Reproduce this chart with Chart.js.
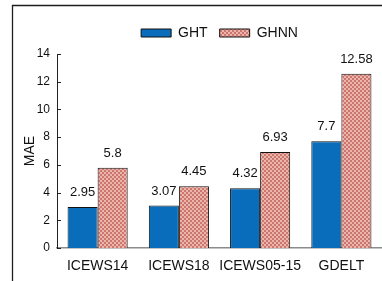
<!DOCTYPE html>
<html>
<head>
<meta charset="utf-8">
<script src="https://cdn.jsdelivr.net/npm/chart.js@4"></script>
<style>
  html, body { margin: 0; padding: 0; background: #fff; }
  #wrap { width: 382px; height: 281px; position: relative; }
</style>
</head>
<body>
<div id="wrap"><canvas id="maeChart" width="382" height="281"></canvas></div>
<script>
const categories = ["ICEWS14", "ICEWS18", "ICEWS05-15", "GDELT"];
const ghtValues = [2.95, 3.07, 4.32, 7.7];
const ghnnValues = [5.8, 4.45, 6.93, 12.58];
const yTicks = [0, 2, 4, 6, 8, 10, 12, 14];

const FONT = "'Liberation Sans', Arial, sans-serif";

// pink dotted fill like the original GHNN bars
function makePattern() {
    const c = document.createElement("canvas");
    c.width = 4;
    c.height = 4;
    const g = c.getContext("2d");
    g.fillStyle = "#cc776d";
    g.fillRect(0, 0, 4, 4);
    g.fillStyle = "#ebb5ad";
    g.fillRect(0, 0, 2, 2);
    g.fillRect(2, 2, 2, 2);
    return g.createPattern(c, "repeat");
}

const framePlugin = {
    id: "frame",
    beforeDraw(chart) {
        const ctx = chart.ctx;
        ctx.save();
        ctx.strokeStyle = "#1e1e1e";
        ctx.lineWidth = 1.3;
        ctx.beginPath();
        ctx.moveTo(12.5, 281);
        ctx.lineTo(12.5, 5.5);
        ctx.lineTo(382, 5.5);
        ctx.stroke();
        ctx.restore();
    }
};

// inward tick marks on the y axis + value labels over bars
const extrasPlugin = {
    id: "extras",
    afterDatasetsDraw(chart) {
        const ctx = chart.ctx;
        const y = chart.scales.y;
        ctx.save();
        ctx.strokeStyle = "#222";
        ctx.lineWidth = 1;
        yTicks.forEach(v => {
            const py = Math.round(y.getPixelForValue(v)) + 0.5;
            ctx.beginPath();
            ctx.moveTo(y.right, py);
            ctx.lineTo(y.right + 4, py);
            ctx.stroke();
        });

        ctx.fillStyle = "#111";
        ctx.font = "13px " + FONT;
        ctx.textAlign = "center";
        ctx.textBaseline = "bottom";
        chart.data.datasets.forEach((ds, i) => {
            const meta = chart.getDatasetMeta(i);
            meta.data.forEach((bar, j) => {
                ctx.fillText(String(ds.data[j]), bar.x, bar.y - 8);
            });
        });
        ctx.restore();
    }
};

function drawChart() {
    const ctx = document.getElementById("maeChart").getContext("2d");

    new Chart(ctx, {
        type: "bar",
        data: {
            labels: categories,
            datasets: [{
                label: "GHT",
                data: ghtValues,
                backgroundColor: "#0a6dbb",
                borderColor: "#111",
                borderWidth: 1
            }, {
                label: "GHNN",
                data: ghnnValues,
                backgroundColor: makePattern(),
                borderColor: "#111",
                borderWidth: 1
            }]
        },
        options: {
            responsive: false,
            animation: false,
            layout: { padding: { top: 14, right: 0, bottom: 0, left: 0 } },
            datasets: {
                bar: { categoryPercentage: 0.74, barPercentage: 1.0 }
            },
            plugins: {
                tooltip: { enabled: false },
                // empty title used only as a small spacer under the legend
                title: {
                    display: true,
                    text: " ",
                    weight: 500,
                    fullSize: false,
                    padding: 0,
                    font: { size: 4, lineHeight: 1 }
                },
                legend: {
                    position: "top",
                    fullSize: false,
                    labels: {
                        boxWidth: 30,
                        boxHeight: 8,
                        padding: 12,
                        color: "#111",
                        font: { family: FONT, size: 14 }
                    }
                }
            },
            scales: {
                x: {
                    grid: { display: false, drawTicks: false },
                    border: { display: true, color: "#8c8c8c", width: 1.5 },
                    ticks: {
                        padding: 10,
                        autoSkip: false,
                        color: "#111",
                        font: { family: FONT, size: 14 },
                        maxRotation: 0
                    },
                    afterFit(scale) { scale.height = 33; }
                },
                y: {
                    min: 0,
                    max: 14,
                    grid: { display: false, drawTicks: false },
                    border: { display: true, color: "#222", width: 1 },
                    ticks: {
                        stepSize: 2,
                        padding: 7,
                        color: "#111",
                        font: { family: FONT, size: 12 }
                    },
                    title: {
                        display: true,
                        text: "MAE",
                        color: "#111",
                        font: { family: FONT, size: 14 },
                        padding: { top: 22, bottom: 0 }
                    },
                    afterFit(scale) { scale.width = 57; }
                }
            }
        },
        plugins: [framePlugin, extrasPlugin]
    });
}

window.onload = drawChart;
</script>
</body>
</html>
